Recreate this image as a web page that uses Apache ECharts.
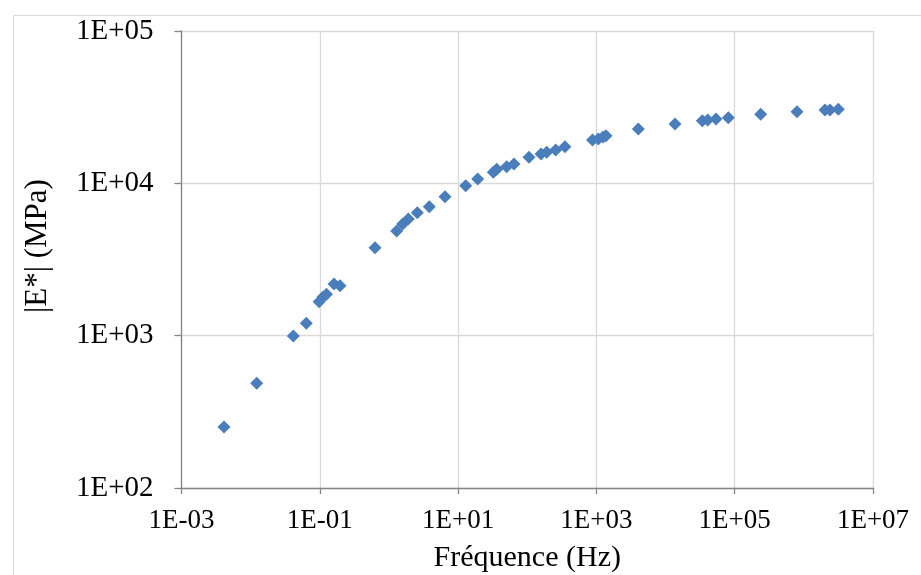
<!DOCTYPE html>
<html>
<head>
<meta charset="utf-8">
<script src="https://cdn.jsdelivr.net/npm/echarts@6/dist/echarts.min.js"></script>
<style>
html,body{margin:0;padding:0;background:#fff;}
#chart{width:921px;height:575px;}
</style>
</head>
<body>
<div id="chart"></div>
<script>
// Frequency (Hz)
var frequency = [
  0.00412, 0.01223, 0.04139, 0.0638, 0.0977, 0.1113, 0.125, 0.1604, 0.196,
  0.6286, 1.295, 1.58, 1.905, 2.57, 3.833, 6.465, 12.88, 19.2, 32.3, 36.2,
  50.4, 64.3, 106, 158, 191, 258, 351, 878, 1065, 1246, 1377, 4036, 13700,
  34000, 40680, 53660, 80800, 237700, 796000, 2022000, 2388000, 3148000
];
// |E*| (MPa)
var modulus = [
  251.5, 486.8, 995, 1205, 1671, 1795, 1869, 2184, 2128,
  3780, 4866, 5409, 5833, 6418, 7025, 8173, 9650, 10680, 11815, 12363,
  12860, 13400, 14825, 15580, 15990, 16555, 17400, 19250, 19550, 20150, 20550, 22740, 24530,
  25780, 26050, 26450, 26970, 28400, 29540, 30300, 30300, 30640
];
var xTicks = [1e-3, 1e-1, 1e1, 1e3, 1e5, 1e7];
var yTicks = [1e2, 1e3, 1e4, 1e5];
var xTitle = 'Fréquence (Hz)';
var yTitle = '|E*| (MPa)';

function sciLabel(v) {
  var e = Math.round(Math.log10(v));
  var s = e < 0 ? '-' : '+';
  var a = Math.abs(e);
  return '1E' + s + (a < 10 ? '0' : '') + a;
}

var points = frequency.map(function (f, i) { return [f, modulus[i]]; });
var font = 'Liberation Serif';
var chart = echarts.init(document.getElementById('chart'));
chart.setOption({
  animation: false,
  backgroundColor: '#ffffff',
  graphic: [{
    type: 'rect', left: 11, top: 13, silent: true,
    shape: { width: 1000, height: 1000 },
    style: { fill: 'none', stroke: '#d9d9d9', lineWidth: 1 }
  }],
  grid: { left: 181.5, right: 48, top: 31, bottom: 87, containLabel: false, outerBoundsMode: 'none' },
  xAxis: {
    type: 'log', logBase: 10, min: xTicks[0], max: xTicks[xTicks.length - 1],
    name: xTitle, nameLocation: 'middle', nameGap: 55,
    nameTextStyle: { fontFamily: font, fontSize: 30, color: '#000' },
    axisLine: { show: true, onZero: false, lineStyle: { color: '#868686', width: 1.3 } },
    axisTick: { show: true, length: 6, customValues: xTicks, lineStyle: { color: '#868686', width: 1.3 } },
    axisLabel: { customValues: xTicks, formatter: sciLabel, fontFamily: font, fontSize: 27, color: '#000', margin: 19 },
    splitLine: { show: true, lineStyle: { color: '#d9d9d9', width: 1.3 } },
    minorTick: { show: false }
  },
  yAxis: {
    type: 'log', logBase: 10, min: yTicks[0], max: yTicks[yTicks.length - 1], interval: 1,
    name: yTitle, nameLocation: 'middle', nameGap: 128, nameRotate: 90,
    nameTextStyle: { fontFamily: font, fontSize: 31, color: '#000', padding: [0, 0, 0, 27] },
    axisLine: { show: true, lineStyle: { color: '#868686', width: 1.3 } },
    axisTick: { show: true, length: 7, lineStyle: { color: '#868686', width: 1.3 } },
    axisLabel: { formatter: sciLabel, fontFamily: font, fontSize: 29, color: '#000', margin: 28 },
    splitLine: { show: true, lineStyle: { color: '#d9d9d9', width: 1.3 } }
  },
  series: [{
    type: 'scatter',
    data: points,
    symbol: 'diamond',
    symbolSize: 13,
    itemStyle: { color: '#4a7ebb', opacity: 1 }
  }]
});
</script>
</body>
</html>
